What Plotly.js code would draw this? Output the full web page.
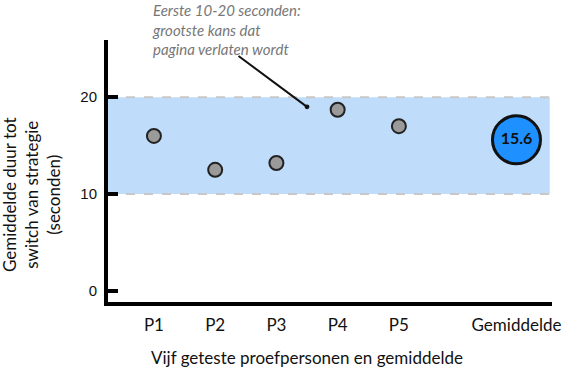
<!DOCTYPE html>
<html><head><meta charset="utf-8">
<script src="https://cdn.plot.ly/plotly-3.0.1.min.js"></script>
<style>body{margin:0}#c{width:564px;height:372px}</style>
</head><body><div id="c"></div>
<script>
const participants = ['P1','P2','P3','P4','P5'];
const participantX = [1,2,3,4,5];
const participantValues = [16.0, 12.5, 13.2, 18.7, 17.0];
const meanLabel = 'Gemiddelde';
const meanX = 6.92;
const meanValue = 15.6;
const bandLow = 10, bandHigh = 20;
const yTicks = [0,10,20];
const note = 'Eerste 10-20 seconden:<br>grootste kans dat<br>pagina verlaten wordt';
const xTitle = 'Vijf geteste proefpersonen en gemiddelde';
const yTitle = 'Gemiddelde duur tot<br>switch van strategie<br>(seconden)';

const font = 'Lato, "Open Sans", sans-serif';
const data = [
  {x: participantX, y: participantValues, type:'scatter', mode:'markers',
   marker:{size:14, color:'#9a9a9a', line:{color:'#222', width:2}}, hoverinfo:'skip'},
  {x:[meanX], y:[meanValue], type:'scatter', mode:'markers+text', text:[meanValue.toFixed(1)],
   textposition:'middle center', textfont:{family:font, size:16, color:'#111', weight:'bold'},
   marker:{size:48, color:'#1e90ff', line:{color:'#111', width:3}}, hoverinfo:'skip'}
];
const L = 108, W = 444, T = 40, H = 262;
const layout = {
  width:564, height:372, showlegend:false,
  margin:{l:L, r:564-L-W, t:T, b:372-T-H},
  paper_bgcolor:'#fff', plot_bgcolor:'#fff',
  font:{family:font, color:'#111'},
  xaxis:{range:[0.25,7.5], tickvals:participantX.concat([meanX]), ticktext:participants.concat([meanLabel]),
    showgrid:false, zeroline:false, showline:true, linecolor:'#000', linewidth:4, ticks:'',
    tickfont:{size:17, family:font}, ticklabelstandoff:5},
  yaxis:{range:[-1.15,25.9], tickvals:yTicks, showgrid:false, zeroline:false,
    showline:true, linecolor:'#000', linewidth:4, ticks:'inside', ticklen:10, tickwidth:4, tickcolor:'#000',
    tickfont:{size:15, family:'"Liberation Sans", Arial, sans-serif'}, ticklabelstandoff:4},
  shapes:[
    {type:'rect', xref:'paper', yref:'y', x0:0, x1:0.995, y0:bandLow, y1:bandHigh, fillcolor:'#bfdcfb', line:{width:0}, layer:'below'},
    {type:'line', xref:'paper', yref:'y', x0:0, x1:0.995, y0:bandHigh, y1:bandHigh, line:{color:'#c8c8c8', width:2, dash:'dash'}, layer:'below'},
    {type:'line', xref:'paper', yref:'y', x0:0, x1:0.995, y0:bandLow, y1:bandLow, line:{color:'#c8c8c8', width:2, dash:'dash'}, layer:'below'}
  ],
  annotations:[
    {x:3.5, y:19.0, xref:'x', yref:'y', text:'', showarrow:true, arrowhead:6, arrowsize:0.6, arrowwidth:2, arrowcolor:'#111',
     ax:237-307, ay:55-107, standoff:0},
    {xref:'paper', yref:'paper', x:(150-L)/W, y:1+(T+1)/H, xanchor:'left', yanchor:'top', align:'left',
     text:'<i>'+note+'</i>', showarrow:false, font:{size:15, color:'#777', family:font}},
    {xref:'paper', yref:'paper', x:(307-L)/W, y:-(357-T-H)/H, xanchor:'center', yanchor:'middle',
     text:xTitle, showarrow:false, font:{size:17, family:font, color:'#111'}},
    {xref:'paper', yref:'paper', x:(31-L)/W, y:1-(195-T)/H, xanchor:'center', yanchor:'middle', textangle:-90,
     text:yTitle, showarrow:false, font:{size:17, family:font, color:'#111'}}
  ]
};
Plotly.newPlot('c', data, layout, {displayModeBar:false, staticPlot:true});
</script></body></html>
